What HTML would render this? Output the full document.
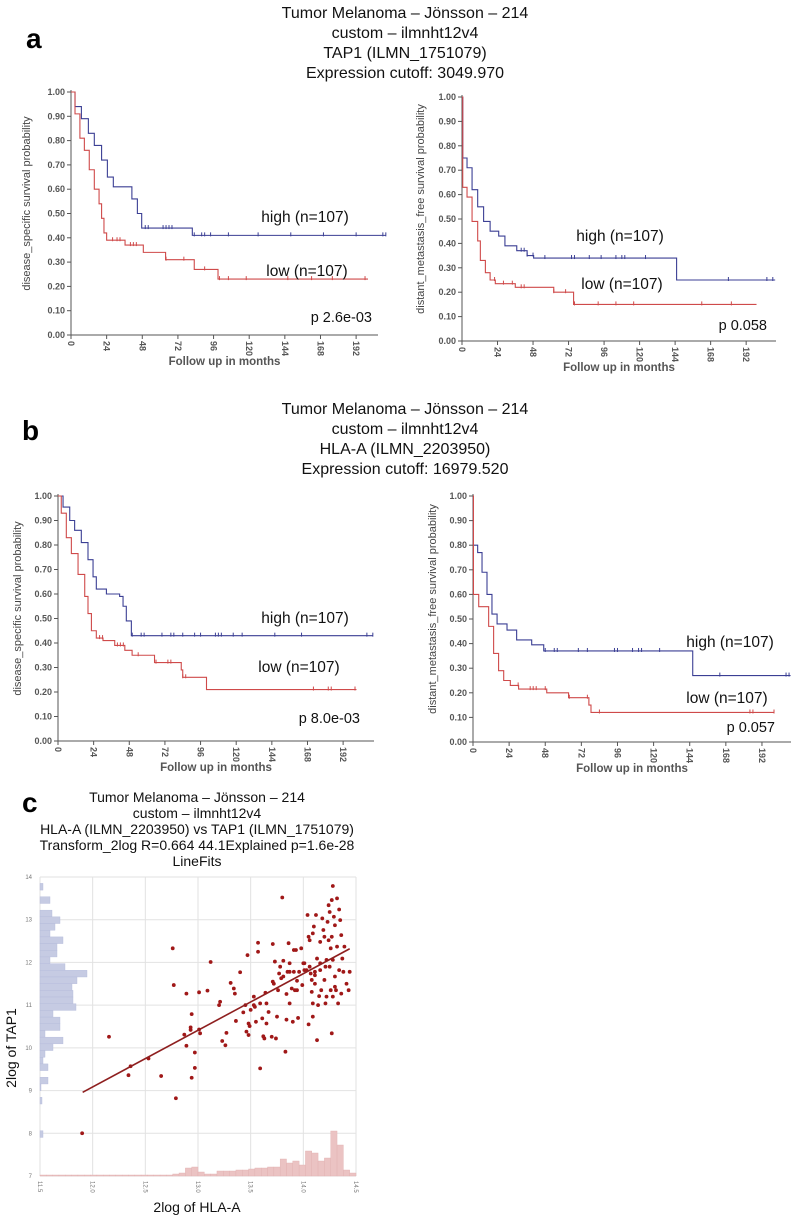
<!DOCTYPE html>
<html><head><meta charset="utf-8">
<style>
html,body{margin:0;padding:0;background:#fff;}
svg{display:block;font-family:"Liberation Sans",sans-serif;}
</style></head>
<body>
<svg id="fig" width="800" height="1218" viewBox="0 0 800 1218" xmlns="http://www.w3.org/2000/svg">
  <g font-size="16" fill="#111" text-anchor="middle">
    <text x="405" y="18">Tumor Melanoma – Jönsson – 214</text>
    <text x="405" y="38">custom – ilmnht12v4</text>
    <text x="405" y="58">TAP1 (ILMN_1751079)</text>
    <text x="405" y="78">Expression cutoff: 3049.970</text>
  </g>
  <text x="26" y="48" font-size="28" font-weight="bold">a</text>
  <g font-size="16" fill="#111" text-anchor="middle">
    <text x="405" y="414">Tumor Melanoma – Jönsson – 214</text>
    <text x="405" y="434">custom – ilmnht12v4</text>
    <text x="405" y="454">HLA-A (ILMN_2203950)</text>
    <text x="405" y="474">Expression cutoff: 16979.520</text>
  </g>
  <text x="22" y="440" font-size="28" font-weight="bold">b</text>
  <g font-size="14" fill="#111" text-anchor="middle">
    <text x="197" y="802">Tumor Melanoma – Jönsson – 214</text>
    <text x="197" y="818">custom – ilmnht12v4</text>
    <text x="197" y="834">HLA-A (ILMN_2203950) vs TAP1 (ILMN_1751079)</text>
    <text x="197" y="850">Transform_2log R=0.664 44.1Explained p=1.6e-28</text>
    <text x="197" y="866">LineFits</text>
  </g>
  <text x="22" y="812" font-size="28" font-weight="bold">c</text>
</svg>
<script>
// ---------- Kaplan-Meier data: [month, survival after step] ----------
const aLeftHigh = [[0,1],[2.7,0.94],[7,0.89],[11.7,0.83],[15.7,0.78],[20.6,0.72],[24.5,0.65],[28.5,0.61],[41,0.56],[44.7,0.50],[47.6,0.44],[81.7,0.41],[212,0.41]];
const aLeftLow = [[0,1],[2.7,0.91],[6,0.81],[9,0.76],[12.3,0.68],[15.7,0.60],[18.9,0.54],[20.6,0.48],[22.2,0.42],[24,0.39],[36.4,0.37],[48.7,0.34],[63.7,0.31],[83,0.27],[99,0.23],[200,0.23]];
const aRightHigh = [[0,1],[0.5,0.75],[3.4,0.71],[6.8,0.62],[10.6,0.55],[14.6,0.49],[19,0.45],[24.8,0.43],[29,0.39],[37,0.37],[44,0.35],[48.4,0.34],[145,0.25],[211.6,0.25]];
const aRightLow = [[0,1],[0.5,0.63],[3.4,0.59],[6.8,0.49],[10.6,0.41],[12.4,0.33],[15.8,0.28],[19,0.25],[22.5,0.235],[36,0.22],[62,0.20],[75.4,0.15],[199,0.15]];
const bLeftHigh = [[0,1],[2.2,1],[3.4,0.955],[7.9,0.90],[11.2,0.86],[15.7,0.81],[20.2,0.74],[23.6,0.67],[25.8,0.62],[32.6,0.60],[41.5,0.59],[43.8,0.55],[46,0.49],[49.4,0.43],[212,0.43]];
const bLeftLow = [[0,1],[2.2,0.93],[5.6,0.83],[9,0.765],[13.5,0.68],[18,0.59],[20.2,0.52],[22.5,0.45],[25.8,0.42],[30.3,0.41],[38.2,0.39],[45,0.37],[49.9,0.35],[65,0.32],[83,0.29],[84,0.26],[100,0.21],[201,0.21]];
const bRightHigh = [[0,1],[0.3,0.80],[3.1,0.77],[6,0.69],[9.3,0.60],[12.6,0.52],[16,0.48],[22.6,0.455],[29,0.415],[39,0.395],[47,0.37],[146,0.27],[211,0.27]];
const bRightLow = [[0,1],[0.3,0.60],[3.8,0.55],[10.4,0.47],[13.7,0.36],[17,0.29],[20.4,0.25],[24.8,0.23],[30.3,0.215],[49,0.20],[63.5,0.18],[77,0.15],[78.4,0.12],[200,0.12]];
const aLeftHighCens = [50,52,62,64,66,68,83,88,90,94,106,126,148,170,192,210,212];
const aLeftLowCens = [28,31,33,40,42,44,64,76,90,100,106,118,146,162,176,198];
const aRightHighCens = [40,42,44,48,56,74,76,86,94,104,108,110,124,180,206,210];
const aRightLowCens = [22,28,34,40,42,62,70,76,92,104,116,162,182];
const bLeftHighCens = [50,56,58,70,76,78,84,92,96,106,108,110,118,124,146,164,208,212];
const bLeftLowCens = [28,30,40,42,44,54,66,74,76,84,86,172,182,184,200];
const bRightHighCens = [48,54,56,70,76,94,96,106,110,112,124,164,208,210];
const bRightLowCens = [30,38,40,42,48,64,76,84,184,186,200];
const kmYTicks = ["0.00","0.10","0.20","0.30","0.40","0.50","0.60","0.70","0.80","0.90","1.00"];
const kmXTicks = [0,24,48,72,96,120,144,168,192];

// ---------- Scatter data ----------
const hlaA = [11.9,12.155,12.34,12.36,12.53,12.65,12.76,12.77,12.79,12.87,12.89,12.89,12.93,12.94,12.94,12.97,12.97,12.93,13.01,13.02,13.01,13.09,13.12,13.2,13.21,13.23,13.26,13.27,13.31,13.34,13.35,13.36,13.4,13.43,13.45,13.46,13.48,13.49,13.47,13.5,13.53,13.53,13.54,13.55,13.57,13.57,13.59,13.59,13.61,13.62,13.63,13.64,13.65,13.67,13.7,13.71,13.71,13.72,13.73,13.74,13.75,13.76,13.77,13.78,13.8,13.79,13.81,13.83,13.84,13.84,13.85,13.86,13.87,13.87,13.89,13.9,13.91,13.91,13.92,13.93,13.94,13.95,13.96,13.98,13.99,14.0,14.01,14.03,14.04,14.05,14.05,14.06,14.06,14.07,14.08,14.09,14.09,14.1,14.11,14.11,14.12,14.13,14.13,14.14,14.15,14.16,14.16,14.17,14.18,14.19,14.2,14.2,14.21,14.22,14.22,14.23,14.24,14.24,14.25,14.26,14.26,14.27,14.27,14.27,14.28,14.28,14.29,14.3,14.3,14.31,14.32,14.32,14.33,14.34,14.34,14.35,14.36,14.36,14.37,14.38,14.39,14.41,14.43,14.44,14.25,14.16,14.09,14.08,13.94,13.87,13.81,13.65,13.48,14.3,14.28,14.21,14.11,14.01];
const tap1 = [8.0,10.26,9.36,9.57,9.75,9.34,12.33,11.47,8.82,10.31,11.27,10.05,10.48,10.79,9.3,9.89,9.53,10.42,11.3,10.34,10.43,11.34,12.01,11.0,11.08,10.16,10.06,10.35,11.52,11.39,11.27,10.63,11.77,10.83,11.0,10.38,10.3,10.51,12.17,10.89,11.0,11.2,10.96,10.61,12.46,12.25,9.52,11.04,10.69,10.27,10.22,11.29,11.04,10.84,10.26,12.43,11.55,11.5,12.02,10.22,10.73,11.35,11.74,11.9,13.52,11.63,12.04,9.91,11.26,10.66,11.78,12.45,11.04,11.78,11.39,10.61,11.78,12.29,11.35,12.29,11.57,10.7,11.78,12.33,11.47,11.98,11.82,11.82,13.11,12.6,10.55,12.52,11.9,11.74,11.31,11.04,10.73,12.84,11.78,11.5,13.11,10.18,12.09,11.0,11.21,11.82,11.98,11.35,13.03,12.76,12.6,11.59,11.04,12.06,11.2,12.95,13.34,12.52,11.9,11.35,12.33,10.34,13.46,12.6,12.06,13.79,13.07,11.67,12.87,11.35,13.5,12.37,11.04,13.24,11.82,12.99,11.27,12.64,12.09,11.78,12.37,11.5,11.35,11.78,13.18,12.48,12.68,11.59,11.35,11.98,11.67,10.57,10.57,11.43,11.2,11.9,11.7,11.98];
const fitStart = [11.905, 8.96];
const fitEnd = [14.44, 12.32];
const xTickLabels = ["11.5","12.0","12.5","13.0","13.5","14.0","14.5"];
const xTickValues = [11.5,12.0,12.5,13.0,13.5,14.0,14.5];
const yTickLabels = ["7","8","9","10","11","12","13","14"];
const yTickValues = [7,8,9,10,11,12,13,14];
const tapHistStart = 13.85;
const tapHistBin = 0.1565;
const tapHistCounts = [3,0,10,0,12,20,15,10,23,17,17,10,25,47,37,32,33,33,36,13,20,20,5,23,13,5,3,8,0,8,1,0,2,0,0,0,0,3];
const hlaHistStart = 11.5;
const hlaHistBin = 0.06;
const hlaHistCounts = [1,1,1,1,1,1,1,1,1,1,1,1,1,1,1,1,1,1,1,1,1,2,3,8,9,4,2,2,5,5,5,6,6,7,8,8,9,9,17,13,15,11,25,23,15,18,45,31,6,3];

const NS = "http://www.w3.org/2000/svg";
const svg = document.getElementById('fig');
function mk(tag, attrs, parent) {
  const e = document.createElementNS(NS, tag);
  for (const k in attrs) e.setAttribute(k, attrs[k]);
  (parent || svg).appendChild(e);
  return e;
}
function txt(s, attrs, parent) { const t = mk('text', attrs, parent); t.textContent = s; return t; }

const BLUE = "#3b3f94", RED = "#cf4a4a", AX = "#555";

function drawKM(cfg) {
  const g = mk('g', {});
  
  
  const sx = m => cfg.x0 + m * cfg.ms;
  const sy = s => cfg.yBot - s * (cfg.yBot - cfg.yTop);
  // axes
  const ax = mk('path', {d:`M${cfg.x0},${cfg.yTop-2}V${cfg.yBot}H${cfg.xEnd}`, stroke:AX, fill:"none", "stroke-width":1}, g);
  
  
  kmYTicks.forEach((lab, i) => {
    const y = sy(i / 10);
    mk('line', {x1:cfg.x0-4, x2:cfg.x0, y1:y, y2:y, stroke:AX}, g);
    const t = txt(lab, {x:cfg.x0-6, y:y+3, "font-size":9, "text-anchor":"end", fill:"#555", "font-weight":"bold"}, g);
    
    
  });
  kmXTicks.forEach(m => {
    const x = sx(m);
    mk('line', {x1:x, x2:x, y1:cfg.yBot, y2:cfg.yBot+4, stroke:AX}, g);
    const t = txt(String(m), {x:0, y:0, "font-size":9, fill:"#555", "font-weight":"bold", transform:`translate(${x-3},${cfg.yBot+6}) rotate(90)`}, g);
    
    
  });
  const xt = txt("Follow up in months", {x:(cfg.x0+cfg.xEnd)/2, y:cfg.yBot+30, "font-size":11.5, "text-anchor":"middle", fill:"#555", "font-weight":"bold"}, g);
  
  
  const yt = txt(cfg.ytitle, {x:0, y:0, "font-size":11, "text-anchor":"middle", fill:"#444", transform:`translate(${cfg.ytx},${(cfg.yTop+cfg.yBot)/2-10}) rotate(-90)`}, g);
  
  
  [[cfg.high, cfg.highC, BLUE, 'high'], [cfg.low, cfg.lowC, RED, 'low']].forEach(([pts, cens, col, nm]) => {
    let d = `M${sx(pts[0][0])},${sy(pts[0][1])}`;
    for (let i = 1; i < pts.length; i++) {
      d += `H${sx(pts[i][0])}V${sy(pts[i][1])}`;
    }
    const p = mk('path', {d, stroke:col, fill:"none", "stroke-width":1.1}, g);
    
    
    cens.forEach(m => {
      let s = pts[0][1];
      for (const [t, v] of pts) if (t <= m) s = v;
      const c = mk('line', {x1:sx(m), x2:sx(m), y1:sy(s)-3, y2:sy(s)+1, stroke:col, "stroke-width":1}, g);
      
      
    });
  });
  const h = txt("high (n=107)", {x:cfg.hx, y:cfg.hy, "font-size":15.5, "text-anchor":"middle", fill:"#111"}, g);
  
  
  const l = txt("low (n=107)", {x:cfg.lx, y:cfg.ly, "font-size":15.5, "text-anchor":"middle", fill:"#111"}, g);
  
  
  const pv = txt(cfg.p, {x:cfg.px, y:cfg.py, "font-size":14.5, "text-anchor":"end", fill:"#111"}, g);
  
  
}

drawKM({name:'km-a-disease-specific', x0:71, yTop:92, yBot:335, ms:1.485, xEnd:378, ytitle:"disease_specific survival probability", ytx:30,
  high:aLeftHigh, low:aLeftLow, highC:aLeftHighCens, lowC:aLeftLowCens, hx:305, hy:222, lx:307, ly:276, p:"p 2.6e-03", px:372, py:322});
drawKM({name:'km-a-distant-metastasis', x0:462, yTop:97, yBot:341, ms:1.48, xEnd:776, ytitle:"distant_metastasis_free survival probability", ytx:424,
  high:aRightHigh, low:aRightLow, highC:aRightHighCens, lowC:aRightLowCens, hx:620, hy:241, lx:622, ly:289, p:"p 0.058", px:767, py:330});
drawKM({name:'km-b-disease-specific', x0:58, yTop:496, yBot:741, ms:1.485, xEnd:374, ytitle:"disease_specific survival probability", ytx:21,
  high:bLeftHigh, low:bLeftLow, highC:bLeftHighCens, lowC:bLeftLowCens, hx:305, hy:623, lx:299, ly:672, p:"p 8.0e-03", px:360, py:723});
drawKM({name:'km-b-distant-metastasis', x0:473, yTop:496, yBot:742, ms:1.505, xEnd:791, ytitle:"distant_metastasis_free survival probability", ytx:436,
  high:bRightHigh, low:bRightLow, highC:bRightHighCens, lowC:bRightLowCens, hx:730, hy:647, lx:727, ly:703, p:"p 0.057", px:775, py:732});

// ---------- Scatter ----------
(function(){
  const L = 40, R = 356, T = 877, B = 1176;
  const sx = v => L + (v - 11.5) / 3 * (R - L);
  const sy = v => B - (v - 7) / 7 * (B - T);
  const g = mk('g', {});
  
  
  xTickValues.forEach((v, i) => {
    const gl = mk('line', {x1:sx(v), x2:sx(v), y1:T, y2:B, stroke:"#e2e2e2", "stroke-width":1}, g);
    
    
    const t = txt(xTickLabels[i], {x:0, y:0, "font-size":6, fill:"#777", transform:`translate(${sx(v)-2},${B+5}) rotate(90)`}, g);
    
    
  });
  yTickValues.forEach((v, i) => {
    const gl = mk('line', {x1:L, x2:R, y1:sy(v), y2:sy(v), stroke:"#e2e2e2", "stroke-width":1}, g);
    
    
    const t = txt(yTickLabels[i], {x:L-8, y:sy(v)+2, "font-size":6, fill:"#777", "text-anchor":"end"}, g);
    
    
  });
  // left histogram (TAP1)
  const pxPerUnit = (B - T) / 7;
  tapHistCounts.forEach((c, i) => {
    if (!c) return;
    const top = tapHistStart - i * tapHistBin;
    const r = mk('rect', {x:L, y:sy(top), width:c, height:tapHistBin*pxPerUnit, fill:"#c6cbe3", stroke:"#b4bada", "stroke-width":0.4}, g);
    
    
  });
  // bottom histogram (HLA-A)
  hlaHistCounts.forEach((c, i) => {
    if (!c) return;
    const x0 = sx(hlaHistStart + i * hlaHistBin), x1 = sx(hlaHistStart + (i + 1) * hlaHistBin);
    const r = mk('rect', {x:x0, y:B - c, width:x1 - x0, height:c, fill:"#ebc3c3", stroke:"#e0b0b0", "stroke-width":0.4}, g);
    
    
  });
  // points
  hlaA.forEach((v, i) => {
    const c = mk('circle', {cx:sx(v), cy:sy(tap1[i]), r:1.9, fill:"#a01818"}, g);
    
    
  });
  const fl = mk('line', {x1:sx(fitStart[0]), y1:sy(fitStart[1]), x2:sx(fitEnd[0]), y2:sy(fitEnd[1]), stroke:"#8e1f1f", "stroke-width":1.6}, g);
  
  
  const xt = txt("2log of HLA-A", {x:197, y:1212, "font-size":14, "text-anchor":"middle", fill:"#111"}, g);
  
  
  const yt = txt("2log of TAP1", {x:0, y:0, "font-size":14, "text-anchor":"middle", fill:"#111", transform:`translate(16,1048) rotate(-90)`}, g);
  
  
})();
</script>
</body></html>
